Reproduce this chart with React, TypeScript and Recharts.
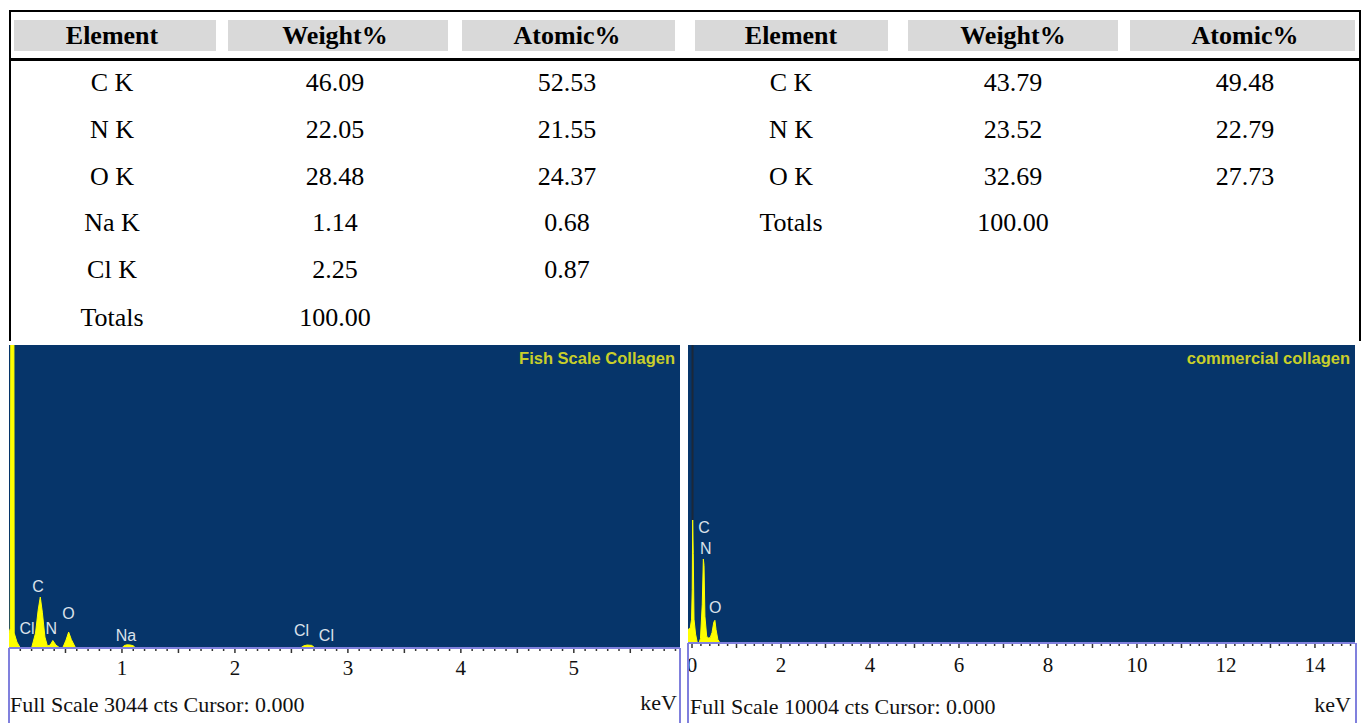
import React from 'react';
import { ComposedChart, Area, Line, Scatter, XAxis, YAxis, CartesianGrid } from 'recharts';

// table values
const headers = ['Element', 'Weight%', 'Atomic%'];
const fishElements = ['C K', 'N K', 'O K', 'Na K', 'Cl K', 'Totals'];
const fishWeight = [46.09, 22.05, 28.48, 1.14, 2.25, 100.0];
const fishAtomic = [52.53, 21.55, 24.37, 0.68, 0.87, null];
const commElements = ['C K', 'N K', 'O K', 'Totals'];
const commWeight = [43.79, 23.52, 32.69, 100.0];
const commAtomic = [49.48, 22.79, 27.73, null];

// fish scale collagen spectrum (keV, counts)
const fishEnergy = [0, 0.012, 0.018, 0.042, 0.046, 0.07, 0.1, 0.2, 0.235, 0.258, 0.277, 0.295, 0.318, 0.34, 0.365, 0.388, 0.415, 0.45, 0.475, 0.505, 0.528, 0.552, 0.59, 1.0, 1.02, 1.045, 1.075, 1.1, 1.12, 2.58, 2.61, 2.64, 2.68, 2.71, 5.94];
const fishCounts = [150, 200, 5000, 5000, 150, 60, 0, 0, 150, 380, 512, 360, 110, 20, 30, 75, 30, 0, 0, 80, 160, 85, 0, 0, 25, 32, 30, 22, 0, 0, 22, 30, 26, 0, 0];
const fishFullScale = 3044;
const fishTicks = [1, 2, 3, 4, 5];
const fishPeakNames = ['C', 'Cl', 'N', 'O', 'Na', 'Cl', 'Cl'];
const fishPeakEnergy = [0.257, 0.16, 0.375, 0.527, 1.035, 2.59, 2.81];
const fishPeakCounts = [613, 191, 191, 342, 130, 171, 130];

// commercial collagen spectrum (keV, counts)
const commEnergy = [-0.09, -0.04, -0.01, 0.005, 0.015, 0.028, 0.045, 0.08, 0.12, 0.16, 0.19, 0.23, 0.255, 0.27, 0.29, 0.33, 0.37, 0.41, 0.45, 0.49, 0.515, 0.54, 0.58, 0.63, 14.9];
const commCounts = [450, 500, 800, 1800, 4130, 3000, 800, 300, 0, 0, 150, 1300, 2820, 2600, 900, 220, 170, 180, 350, 700, 760, 450, 120, 0, 0];
const commStrobeEnergy = [0.012, 0.012];
const commStrobeCounts = [4130, 10004];
const commFullScale = 10004;
const commTicks = [0, 2, 4, 6, 8, 10, 12, 14];
const commPeakNames = ['C', 'N', 'O'];
const commPeakEnergy = [0.27, 0.31, 0.52];
const commPeakCounts = [3894, 3156, 1175];

const NAVY = '#06356a';
const YELLOW = '#ffff00';
const LAVENDER = '#8080dd';
const serif = '"Liberation Serif", "Times New Roman", serif';
const sans = '"Liberation Sans", Arial, sans-serif';

const zip = (e: number[], c: number[]) => e.map((v, i) => ({ e: v, c: c[i] }));

function makeTick(labels: number[], majorStep: number, labelDy: number) {
  return (props: any) => {
    const { x, y, payload } = props;
    const v = payload.value;
    const major = Math.abs(v / majorStep - Math.round(v / majorStep)) < 1e-6;
    const showLabel = labels.some((l) => Math.abs(l - v) < 1e-6);
    return (
      <g>
        <line x1={x} x2={x} y1={y + 1} y2={y + (major ? 5 : 3)} stroke="#333" strokeWidth={1.5} />
        {showLabel && (
          <text x={x} y={y + labelDy} textAnchor="middle" dominantBaseline="central" fontFamily={serif} fontSize={21} fill="#111">
            {v}
          </text>
        )}
      </g>
    );
  };
}

const peakLabel = (props: any) => {
  const { cx, cy, payload } = props;
  return (
    <text x={cx} y={cy} textAnchor="middle" dominantBaseline="central" fontFamily={sans} fontSize={16} fill="#dbe2ea">
      {payload.name}
    </text>
  );
};

function Spectrum(props: {
  left: number;
  width: number;
  margin: { top: number; right: number; bottom: number; left: number };
  domain: [number, number];
  fullScale: number;
  data: { e: number; c: number }[];
  ticks: number[];
  minor: number[];
  majorStep: number;
  labels: { e: number; c: number; name: string }[];
  strobe?: { e: number; c: number }[];
  labelDy: number;
}) {
  return (
    <div style={{ position: 'absolute', left: props.left, top: 340 }}>
      <ComposedChart width={props.width} height={383} data={props.data} margin={props.margin}>
        <CartesianGrid fill={NAVY} horizontal={false} vertical={false} />
        <XAxis
          type="number"
          dataKey="e"
          domain={props.domain}
          allowDataOverflow
          ticks={props.minor}
          interval={0}
          height={30}
          tickSize={0}
          tickMargin={0}
          tickLine={false}
          axisLine={{ stroke: LAVENDER, strokeWidth: 2 }}
          tick={makeTick(props.ticks, props.majorStep, props.labelDy)}
        />
        <YAxis type="number" hide domain={[0, props.fullScale]} allowDataOverflow />
        <Area type="linear" dataKey="c" stroke={YELLOW} fill={YELLOW} fillOpacity={1} strokeWidth={1} dot={false} activeDot={false} isAnimationActive={false} />
        {props.strobe && (
          <Line data={props.strobe} type="linear" dataKey="c" stroke="#1c2838" strokeWidth={2} dot={false} activeDot={false} isAnimationActive={false} />
        )}
        <Scatter data={props.labels} dataKey="c" shape={peakLabel} isAnimationActive={false} />
      </ComposedChart>
    </div>
  );
}

const colCenters = [112, 335, 567, 791, 1013, 1245];
const headerBoxes = [[14, 216], [228, 448], [462, 675], [695, 888], [908, 1118], [1130, 1355]];
const rowY = [83, 130, 177, 223, 270, 318];

const cellText = (text: string, x: number, y: number, bold = false, key?: string) => (
  <div
    key={key}
    style={{
      position: 'absolute',
      left: x,
      top: y,
      transform: 'translate(-50%, -50%)',
      fontFamily: serif,
      fontSize: 26,
      fontWeight: bold ? 700 : 400,
      lineHeight: 1,
      whiteSpace: 'nowrap',
      color: '#000',
    }}
  >
    {text}
  </div>
);

const vline = (x: number, y1: number, y2: number, color: string, w: number, key: string) => (
  <div key={key} style={{ position: 'absolute', left: x, top: y1, width: w, height: y2 - y1, background: color }} />
);

export default function App() {
  const fishData = zip(fishEnergy, fishCounts);
  const commData = zip(commEnergy, commCounts);
  const fishLabels = fishPeakNames.map((n, i) => ({ name: n, e: fishPeakEnergy[i], c: fishPeakCounts[i] }));
  const commLabels = commPeakNames.map((n, i) => ({ name: n, e: commPeakEnergy[i], c: commPeakCounts[i] }));
  const strobe = zip(commStrobeEnergy, commStrobeCounts);
  const fishMinor = Array.from({ length: 60 }, (_, i) => i / 10);
  const commMinor = Array.from({ length: 75 }, (_, i) => (i * 2) / 10);

  const fmt = (v: number | null) => (v === null ? '' : v.toFixed(2));
  const tables = [
    { els: fishElements, w: fishWeight, a: fishAtomic, off: 0 },
    { els: commElements, w: commWeight, a: commAtomic, off: 3 },
  ];

  return (
    <div style={{ position: 'absolute', left: 0, top: 0, width: 1362, height: 723, background: '#fff', overflow: 'hidden' }}>
      {/* table frame */}
      <div style={{ position: 'absolute', left: 9, top: 10, width: 1352, height: 2, background: '#000' }} />
      <div style={{ position: 'absolute', left: 9, top: 58, width: 1352, height: 3, background: '#000' }} />
      {vline(9, 10, 341, '#000', 2, 'tl')}
      {vline(1359, 10, 341, '#000', 2, 'tr')}
      {headerBoxes.map(([a, b], i) => (
        <div key={'hb' + i} style={{ position: 'absolute', left: a, top: 20, width: b - a, height: 31, background: '#d9d9d9' }} />
      ))}
      {tables.map((t) =>
        headers.map((h, j) => cellText(h, colCenters[t.off + j], 36, true, 'h' + t.off + j))
      )}
      {tables.map((t) =>
        t.els.map((el, r) => (
          <React.Fragment key={'r' + t.off + r}>
            {cellText(el, colCenters[t.off], rowY[r])}
            {cellText(fmt(t.w[r]), colCenters[t.off + 1], rowY[r])}
            {cellText(fmt(t.a[r]), colCenters[t.off + 2], rowY[r])}
          </React.Fragment>
        ))
      )}

      <Spectrum
        left={0}
        width={690}
        margin={{ top: 5, right: 10, bottom: 45, left: 9 }}
        domain={[0, 5.94]}
        fullScale={fishFullScale}
        data={fishData}
        ticks={fishTicks}
        minor={fishMinor}
        majorStep={0.5}
        labels={fishLabels}
        labelDy={20}
      />
      <Spectrum
        left={684}
        width={678}
        margin={{ top: 5, right: 7, bottom: 50, left: 4 }}
        domain={[-0.09, 14.9]}
        fullScale={commFullScale}
        data={commData}
        ticks={commTicks}
        minor={commMinor}
        majorStep={1}
        labels={commLabels}
        strobe={strobe}
        labelDy={22}
      />

      {/* panel titles and footers */}
      <div style={{ position: 'absolute', right: 1362 - 675, top: 349, fontFamily: sans, fontSize: 16.5, fontWeight: 700, color: '#c9cf2a', whiteSpace: 'nowrap' }}>Fish Scale Collagen</div>
      <div style={{ position: 'absolute', right: 1362 - 1350, top: 349, fontFamily: sans, fontSize: 16.5, fontWeight: 700, color: '#c9cf2a', whiteSpace: 'nowrap' }}>commercial collagen</div>
      <div style={{ position: 'absolute', left: 10, top: 692, fontFamily: serif, fontSize: 22, color: '#111', whiteSpace: 'nowrap' }}>Full Scale 3044 cts Cursor: 0.000</div>
      <div style={{ position: 'absolute', right: 1362 - 677, top: 690, fontFamily: serif, fontSize: 22, color: '#111' }}>keV</div>
      <div style={{ position: 'absolute', left: 690, top: 694, fontFamily: serif, fontSize: 22, color: '#111', whiteSpace: 'nowrap' }}>Full Scale 10004 cts Cursor: 0.000</div>
      <div style={{ position: 'absolute', right: 1362 - 1351, top: 692, fontFamily: serif, fontSize: 22, color: '#111' }}>keV</div>
      {vline(8, 648, 723, LAVENDER, 2, 'b1')}
      {vline(679, 648, 723, LAVENDER, 2, 'b2')}
      {vline(687, 643, 723, LAVENDER, 2, 'b3')}
      {vline(1355, 643, 723, LAVENDER, 2, 'b4')}
    </div>
  );
}
